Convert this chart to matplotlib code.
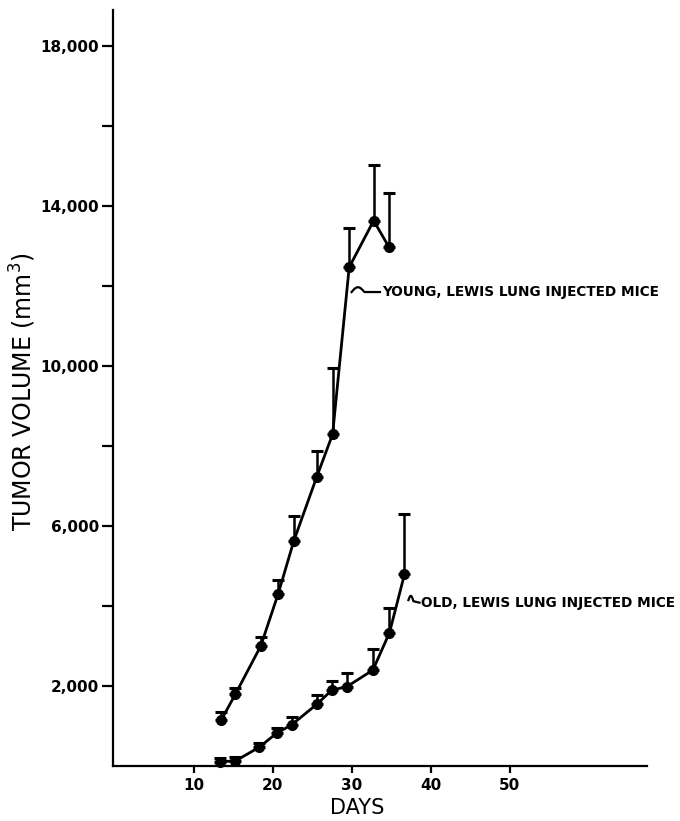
import numpy as np
import matplotlib
matplotlib.use('Agg')
import matplotlib.pyplot as plt

# values (days after injection, tumor volume mm^3, upper error)
young_days = [13.5, 15.3, 18.5, 20.7, 22.7, 25.6, 27.6, 29.7, 32.8, 34.7]
young_vol = [1140, 1790, 2990, 4290, 5625, 7225, 8285, 12460, 13625, 12975]
young_err = [195, 150, 230, 350, 625, 650, 1650, 990, 1395, 1350]

old_days = [13.4, 15.3, 18.3, 20.5, 22.4, 25.6, 27.5, 29.4, 32.7, 34.8, 36.7]
old_vol = [100, 120, 460, 810, 1020, 1535, 1890, 1975, 2390, 3325, 4785]
old_err = [80, 90, 115, 140, 205, 225, 230, 350, 530, 625, 1505]

x_ticks = [10, 20, 30, 40, 50]
y_ticks = [2000, 4000, 6000, 8000, 10000, 12000, 14000, 16000, 18000]
y_labeled = [2000, 6000, 10000, 14000, 18000]

young_label = 'YOUNG, LEWIS LUNG INJECTED MICE'
old_label = 'OLD, LEWIS LUNG INJECTED MICE'


def squiggle(ax, x0, y0, x1, y1):
    # little wavy leader line from the curve to its label
    t = np.linspace(0, 1, 40)
    xs = x0 + (x1 - x0) * t
    wave = np.where(t < 0.45, np.sin(t / 0.45 * np.pi) * 120, 0)
    ys = y0 + (y1 - y0) * t + wave
    ax.plot(xs, ys, color='black', lw=1.6, clip_on=False)


def draw_series(ax, days, vol, err):
    ax.errorbar(days, vol, yerr=[np.zeros(len(err)), err], fmt='-o', color='black',
                lw=2.0, ms=7, elinewidth=1.8, capsize=4, capthick=2.2, clip_on=False)


fig = plt.figure(figsize=(6.8, 8.21), dpi=100)
ax = fig.add_axes([113 / 680, 1 - 765.7 / 821, (647 - 113) / 680, (765.7 - 10) / 821])

draw_series(ax, young_days, young_vol, young_err)
draw_series(ax, old_days, old_vol, old_err)

ax.set_xlim(-0.2, 67.4)
ax.set_ylim(0, 18890)

for side in ['top', 'right']:
    ax.spines[side].set_visible(False)
for side in ['left', 'bottom']:
    ax.spines[side].set_linewidth(1.6)

ax.set_xticks(x_ticks)
ax.set_xticklabels([str(v) for v in x_ticks], fontsize=11, fontweight='bold')
ax.set_yticks(y_ticks)
ax.set_yticklabels(['{:,}'.format(v) if v in y_labeled else '' for v in y_ticks],
                   fontsize=11, fontweight='bold')
ax.tick_params(axis='x', direction='out', length=5, width=1.6, pad=4)
ax.tick_params(axis='y', direction='out', length=8, width=1.6, pad=2)

ax.set_xlabel('DAYS', fontsize=15, fontweight='medium')
ax.xaxis.set_label_coords((357 - 113) / 534, -0.043)
ax.set_ylabel('TUMOR VOLUME (mm$^3$)', fontsize=17)
ax.yaxis.set_label_coords((38 - 113) / 534, (765.7 - 392) / 755.7)

# curve labels
squiggle(ax, 30.0, 11840, 33.6, 11840)
ax.text(33.9, 11840, young_label, fontsize=9.8, fontweight='heavy', va='center', ha='left',
        clip_on=False)
squiggle(ax, 37.2, 4140, 38.6, 4075)
ax.text(38.8, 4075, old_label, fontsize=9.8, fontweight='heavy', va='center', ha='left',
        clip_on=False)

fig.savefig('out.png', dpi=100)
